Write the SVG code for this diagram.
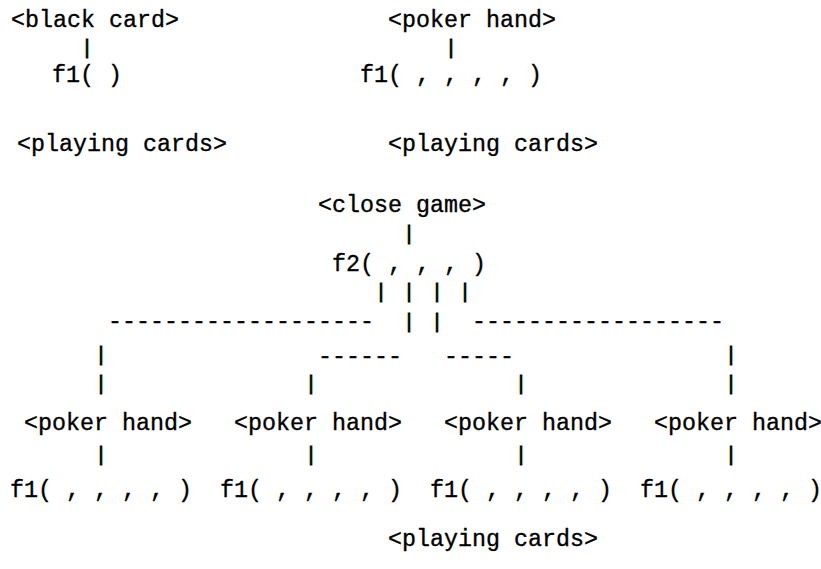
<svg xmlns="http://www.w3.org/2000/svg" width="821" height="569" viewBox="0 0 821 569">
<style>
text { font-family: "Liberation Mono", "DejaVu Sans Mono", monospace; font-size: 23.33px; fill: #000; stroke: #000; stroke-width: 0.35px; }
text.bar { font-size: 20px; stroke-width: 0.8px; }
</style>
<rect width="821" height="569" fill="#fff"/>
<g id="connectors">
  <text class="bar" x="81" y="54">|</text>
  <text class="bar" x="445" y="54">|</text>
  <text class="bar" x="403" y="240">|</text>
  <text class="bar" x="375" y="298">|</text>
  <text class="bar" x="403" y="298">|</text>
  <text class="bar" x="431" y="298">|</text>
  <text class="bar" x="459" y="298">|</text>
  <text x="108" y="328">-------------------</text>
  <text class="bar" x="403" y="328">|</text>
  <text class="bar" x="431" y="328">|</text>
  <text x="472" y="328">------------------</text>
  <text class="bar" x="95" y="361">|</text>
  <text x="318" y="363">------</text>
  <text x="444" y="363">-----</text>
  <text class="bar" x="725" y="361">|</text>
  <text class="bar" x="95" y="390">|</text>
  <text class="bar" x="305" y="390">|</text>
  <text class="bar" x="515" y="390">|</text>
  <text class="bar" x="725" y="390">|</text>
  <text class="bar" x="95" y="461">|</text>
  <text class="bar" x="305" y="461">|</text>
  <text class="bar" x="515" y="461">|</text>
  <text class="bar" x="725" y="461">|</text>
</g>
<g id="black-card"><text x="11" y="27">&lt;black card&gt;</text></g>
<g id="f1-top-left"><text x="52" y="82">f1( )</text></g>
<g id="playing-cards-top-left"><text x="17" y="151">&lt;playing cards&gt;</text></g>
<g id="poker-hand-top"><text x="388" y="27">&lt;poker hand&gt;</text></g>
<g id="f1-top-right"><text x="360" y="82">f1( , , , , )</text></g>
<g id="playing-cards-top-right"><text x="388" y="151">&lt;playing cards&gt;</text></g>
<g id="close-game"><text x="318" y="212">&lt;close game&gt;</text></g>
<g id="f2"><text x="332" y="271">f2( , , , )</text></g>
<g id="poker-hand-1"><text x="24" y="430">&lt;poker hand&gt;</text></g>
<g id="poker-hand-2"><text x="234" y="430">&lt;poker hand&gt;</text></g>
<g id="poker-hand-3"><text x="444" y="430">&lt;poker hand&gt;</text></g>
<g id="poker-hand-4"><text x="654" y="430">&lt;poker hand&gt;</text></g>
<g id="f1-1"><text x="10" y="497">f1( , , , , )</text></g>
<g id="f1-2"><text x="220" y="497">f1( , , , , )</text></g>
<g id="f1-3"><text x="430" y="497">f1( , , , , )</text></g>
<g id="f1-4"><text x="640" y="497">f1( , , , , )</text></g>
<g id="playing-cards-bottom"><text x="388" y="546">&lt;playing cards&gt;</text></g>
</svg>
